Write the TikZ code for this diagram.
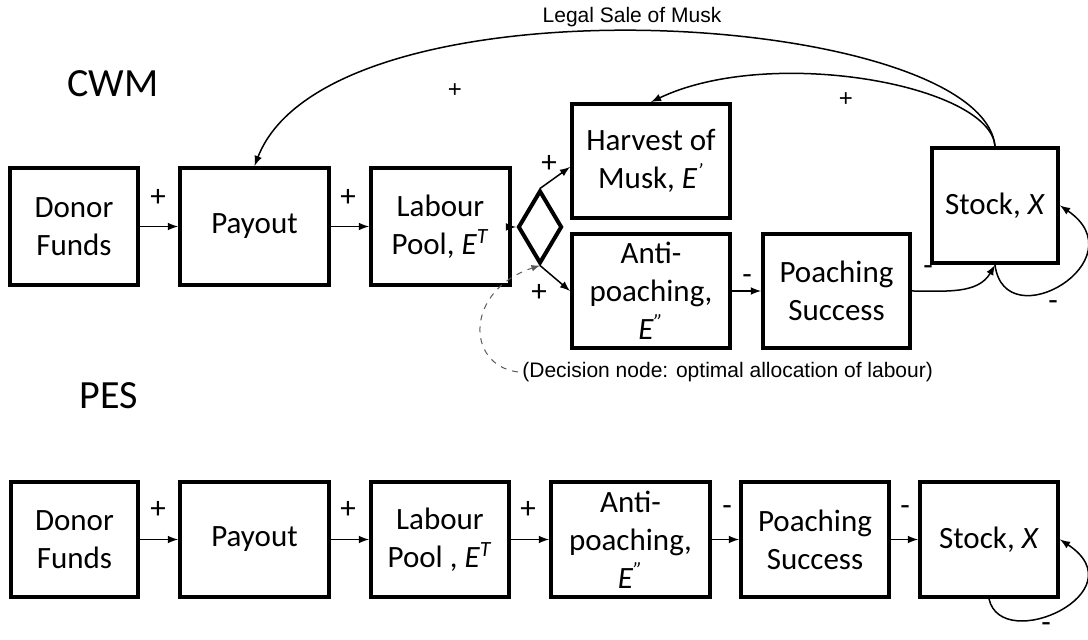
\documentclass[tikz,border=0pt]{standalone}
\usepackage{fontspec}
\setmainfont{Carlito}
\newfontfamily\arialfont{Liberation Sans}
\usetikzlibrary{arrows,calc,shapes.geometric}

\tikzset{
  box/.style={draw, line width=2pt, align=center, inner sep=1pt, font=\fontsize{15.5}{19}\selectfont},
  link/.style={-latex, line width=0.75pt},
  sign/.style={font=\fontsize{15.5}{19}\selectfont, inner sep=0pt},
  note/.style={font=\arialfont\fontsize{10.5}{12}\selectfont, inner sep=0pt},
  title/.style={font=\fontsize{20}{24}\selectfont, inner sep=0pt}
}

\begin{document}
\begin{tikzpicture}[x=0.5pt,y=-0.5pt]
\useasboundingbox (0,0) rectangle (1088,640);

\node[title] (cwm) at (113,84) {CWM};
\node[title] (pes) at (109,396) {PES};

\node[box, minimum width=64pt, minimum height=58.5pt] (donA) at (74,226.5) {Donor\\Funds};
\node[box, minimum width=74.5pt, minimum height=58.5pt] (payA) at (254.5,226.5) {Payout};
\node[box, minimum width=69.5pt, minimum height=58.5pt] (labA) at (440.5,226.5) {Labour\\Pool, \textit{E}\textsuperscript{\textit{T}}};
\node[draw, diamond, line width=2pt, minimum width=22pt, minimum height=36.5pt, inner sep=0pt] (dia) at (540,227) {};
\node[box, minimum width=79pt, minimum height=57pt] (harA) at (651,161) {Harvest of\\Musk, \textit{E}\textsuperscript{\textit{'}}};
\node[box, minimum width=79pt, minimum height=57pt] (antA) at (651,291) {Anti-\\poaching,\\\textit{E}\textsuperscript{\textit{''}}};
\node[box, minimum width=73.5pt, minimum height=57pt] (poaA) at (836.5,291) {Poaching\\Success};
\node[box, minimum width=63pt, minimum height=57.5pt] (stoA) at (995,205.5) {Stock, \textit{X}};

\draw[link] (donA) -- (payA);
\draw[link] (payA) -- (labA);
\draw[link] (labA) -- (dia.west);
\draw[link] (dia.north) -- (harA.west |- 0,167);
\draw[link] (dia.south) -- (antA.west);
\draw[link] (antA) -- (poaA);
\draw[link] (poaA.east) to[out=0,in=-120] (stoA.south);
\draw[link] (stoA.south) .. controls (1005,340) and (1140,260) .. (stoA.east);
\draw[link] (stoA.north) .. controls (990,85) and (770,45) .. (harA.north);
\draw[link] (stoA.north) .. controls (980,10) and (330,-30) .. (payA.north);
\draw[link, dashed, line width=0.5pt, black!65] (518,372) .. controls (465,365) and (465,290) .. (dia.south);

\node[note] (sale) at (632,17) {Legal Sale of Musk};
\node[note, anchor=west] (decision) at (522,372) {(Decision node: optimal allocation of labour)};

\node[sign] (s1) at (158,198) {+};
\node[sign] (s2) at (348,198) {+};
\node[sign] (s3) at (549,164) {+};
\node[sign] (s4) at (539,293) {+};
\node[sign] (s5) at (747,280) {-};
\node[sign] (s6) at (928,271) {-};
\node[sign] (s7) at (1053,306) {-};
\node[note, font=\arialfont\fontsize{12}{14}\selectfont] (s8) at (455,91) {+};
\node[note, font=\arialfont\fontsize{12}{14}\selectfont] (s9) at (846,100) {+};

\node[box, minimum width=63.5pt, minimum height=57.5pt] (donB) at (74.5,539.5) {Donor\\Funds};
\node[box, minimum width=74.5pt, minimum height=57.5pt] (payB) at (254.5,539.5) {Payout};
\node[box, minimum width=69pt, minimum height=57.5pt] (labB) at (440,539.5) {Labour\\Pool , \textit{E}\textsuperscript{\textit{T}}};
\node[box, minimum width=79.5pt, minimum height=57.5pt] (antB) at (630.5,539.5) {Anti-\\poaching,\\\textit{E}\textsuperscript{\textit{''}}};
\node[box, minimum width=74pt, minimum height=57.5pt] (poaB) at (815,539.5) {Poaching\\Success};
\node[box, minimum width=69pt, minimum height=57.5pt] (stoB) at (989,539.5) {Stock, \textit{X}};

\draw[link] (donB) -- (payB);
\draw[link] (payB) -- (labB);
\draw[link] (labB) -- (antB);
\draw[link] (antB) -- (poaB);
\draw[link] (poaB) -- (stoB);
\draw[link] (stoB.south) .. controls (1002,655) and (1140,592) .. (stoB.east);

\node[sign] (t1) at (158,510) {+};
\node[sign] (t2) at (348,510) {+};
\node[sign] (t3) at (528,510) {+};
\node[sign] (t4) at (727,511) {-};
\node[sign] (t5) at (905,511) {-};
\node[sign] (t6) at (1046,628) {-};
\end{tikzpicture}
\end{document}
